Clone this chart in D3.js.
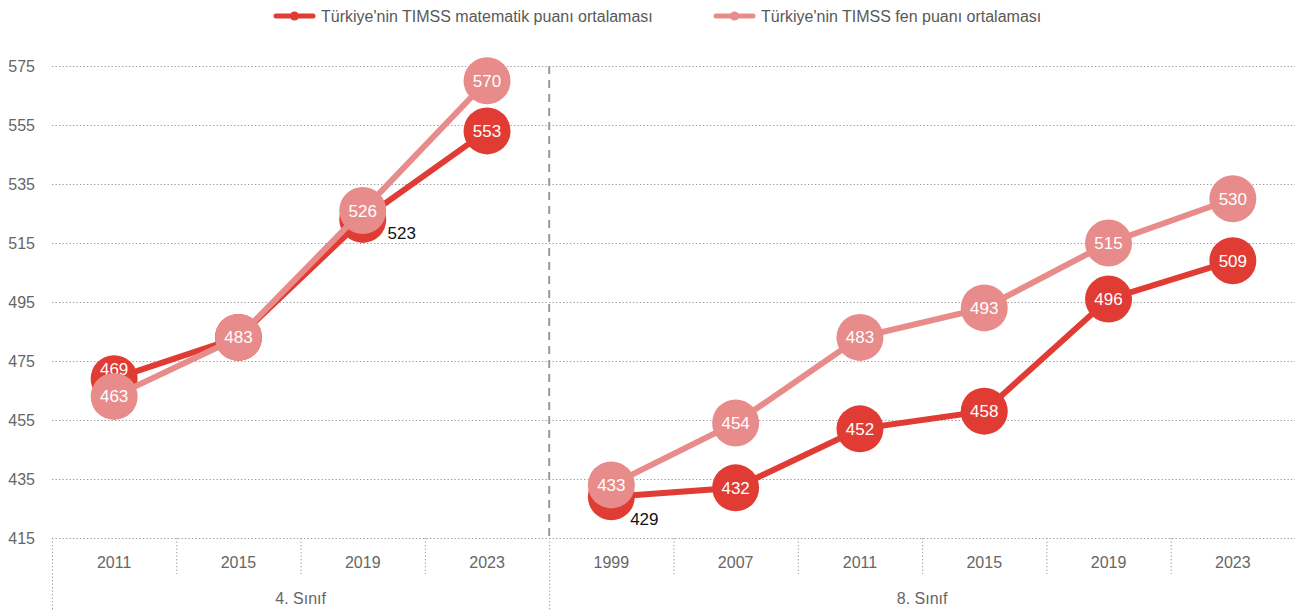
<!DOCTYPE html>
<html>
<head>
<meta charset="utf-8">
<script src="https://cdn.jsdelivr.net/npm/d3@7"></script>
<style>
  body { margin: 0; background: #fff; }
  svg { font-family: "Liberation Sans Narrow", "Arial Narrow", "Liberation Sans", sans-serif; }
</style>
</head>
<body>
<svg id="chart" width="1295" height="614"></svg>
<script>
// groups and years on the x axis
var groups = ['4. Sınıf', '8. Sınıf'];
var years4 = ['2011', '2015', '2019', '2023'];
var years8 = ['1999', '2007', '2011', '2015', '2019', '2023'];

// scores
var math4 = [469, 483, 523, 553];
var fen4 = [463, 483, 526, 570];
var math8 = [429, 432, 452, 458, 496, 509];
var fen8 = [433, 454, 483, 493, 515, 530];

var yTicks = [415, 435, 455, 475, 495, 515, 535, 555, 575];
var seriesNames = ["Türkiye'nin TIMSS matematik puanı ortalaması", "Türkiye'nin TIMSS fen puanı ortalaması"];

var colMath = '#e03c34';
var colFen = '#e88b8b';

var svg = d3.select('#chart');
var plotL = 52, plotR = 1295, plotT = 66, plotB = 538;

var keys = years4.map(function (y) { return '4|' + y; })
    .concat(years8.map(function (y) { return '8|' + y; }));

var x = d3.scaleBand().domain(keys).range([plotL, plotR]);
var y = d3.scaleLinear().domain([415, 575]).range([plotB, plotT]);

// gridlines
svg.append('g').selectAll('line')
    .data(yTicks)
    .enter().append('line')
    .attr('x1', plotL).attr('x2', plotR)
    .attr('y1', function (d) { return y(d) + 0.5; })
    .attr('y2', function (d) { return y(d) + 0.5; })
    .attr('stroke', '#999')
    .attr('stroke-width', 1)
    .attr('stroke-dasharray', '1.3,2.2');

// y labels
svg.append('g').selectAll('text')
    .data(yTicks)
    .enter().append('text')
    .attr('x', 35)
    .attr('y', function (d) { return y(d) + 6; })
    .attr('text-anchor', 'end')
    .attr('font-size', 16)
    .attr('fill', '#666')
    .text(function (d) { return d; });

// category separators below the axis
var sepX = [];
keys.forEach(function (k, i) { if (i > 0) sepX.push(i); });
svg.append('g').selectAll('line')
    .data(sepX)
    .enter().append('line')
    .attr('x1', function (i) { return x(keys[i]) + 0.5; })
    .attr('x2', function (i) { return x(keys[i]) + 0.5; })
    .attr('y1', plotB)
    .attr('y2', function (i) { return i === years4.length ? 610 : 574; })
    .attr('stroke', '#999')
    .attr('stroke-dasharray', '1.3,2.2');
svg.append('line')
    .attr('x1', plotL + 0.5).attr('x2', plotL + 0.5)
    .attr('y1', plotB).attr('y2', 610)
    .attr('stroke', '#999')
    .attr('stroke-dasharray', '1.3,2.2');

// group divider inside plot
var divX = x(keys[years4.length]);
svg.append('line')
    .attr('x1', divX).attr('x2', divX)
    .attr('y1', plotT).attr('y2', plotB)
    .attr('stroke', '#999')
    .attr('stroke-width', 2)
    .attr('stroke-dasharray', '8,6');

// year labels
svg.append('g').selectAll('text')
    .data(keys)
    .enter().append('text')
    .attr('x', function (k) { return x(k) + x.bandwidth() / 2; })
    .attr('y', 568)
    .attr('text-anchor', 'middle')
    .attr('font-size', 16)
    .attr('fill', '#666')
    .text(function (k) { return k.split('|')[1]; });

// group labels
var groupCenter = [
    (x(keys[0]) + x(keys[years4.length - 1]) + x.bandwidth()) / 2,
    (x(keys[years4.length]) + x(keys[keys.length - 1]) + x.bandwidth()) / 2
];
svg.append('g').selectAll('text')
    .data(groups)
    .enter().append('text')
    .attr('x', function (d, i) { return groupCenter[i]; })
    .attr('y', 604)
    .attr('text-anchor', 'middle')
    .attr('font-size', 16)
    .attr('fill', '#666')
    .text(function (d) { return d; });

function pts(grade, years, vals) {
    return years.map(function (yr, i) {
        return { x: x(grade + '|' + yr) + x.bandwidth() / 2, v: vals[i], key: grade + '|' + yr };
    });
}

var line = d3.line()
    .x(function (d) { return d.x; })
    .y(function (d) { return y(d.v); });

// labels that sit outside the bubble (hidden by the other series)
var outside = { '4|2019': [39, 20], '8|1999': [33, 28] };
var shifted = { '4|2011': -10 };

function drawSeries(parts, color, isMath) {
    var g = svg.append('g');
    parts.forEach(function (p) {
        g.append('path')
            .attr('d', line(p))
            .attr('fill', 'none')
            .attr('stroke', color)
            .attr('stroke-width', 6);
    });
    var all = parts[0].concat(parts[1]);
    g.selectAll('circle')
        .data(all)
        .enter().append('circle')
        .attr('cx', function (d) { return d.x; })
        .attr('cy', function (d) { return y(d.v); })
        .attr('r', 23.5)
        .attr('fill', color);
    g.selectAll('text')
        .data(all)
        .enter().append('text')
        .attr('x', function (d) {
            if (isMath && outside[d.key]) return d.x + outside[d.key][0];
            return d.x;
        })
        .attr('y', function (d) {
            if (isMath && outside[d.key]) return y(d.v) + outside[d.key][1];
            if (isMath && shifted[d.key]) return y(d.v) + shifted[d.key] + 6;
            return y(d.v) + 6;
        })
        .attr('text-anchor', 'middle')
        .attr('font-size', 17)
        .attr('fill', function (d) { return isMath && outside[d.key] ? '#111' : '#fff'; })
        .text(function (d) { return d.v; });
}

drawSeries([pts('4', years4, math4), pts('8', years8, math8)], colMath, true);
drawSeries([pts('4', years4, fen4), pts('8', years8, fen8)], colFen, false);

// legend
var legend = svg.append('g');
var legendItems = [
    { name: seriesNames[0], color: colMath, x: 276 },
    { name: seriesNames[1], color: colFen, x: 716 }
];
legendItems.forEach(function (it) {
    legend.append('line')
        .attr('x1', it.x).attr('x2', it.x + 37)
        .attr('y1', 16).attr('y2', 16)
        .attr('stroke', it.color)
        .attr('stroke-width', 5)
        .attr('stroke-linecap', 'round');
    legend.append('circle')
        .attr('cx', it.x + 18.5).attr('cy', 16).attr('r', 4.5)
        .attr('fill', it.color);
    legend.append('text')
        .attr('x', it.x + 45)
        .attr('y', 22)
        .attr('font-size', 16)
        .attr('fill', '#595959')
        .text(it.name);
});
</script>
</body>
</html>
